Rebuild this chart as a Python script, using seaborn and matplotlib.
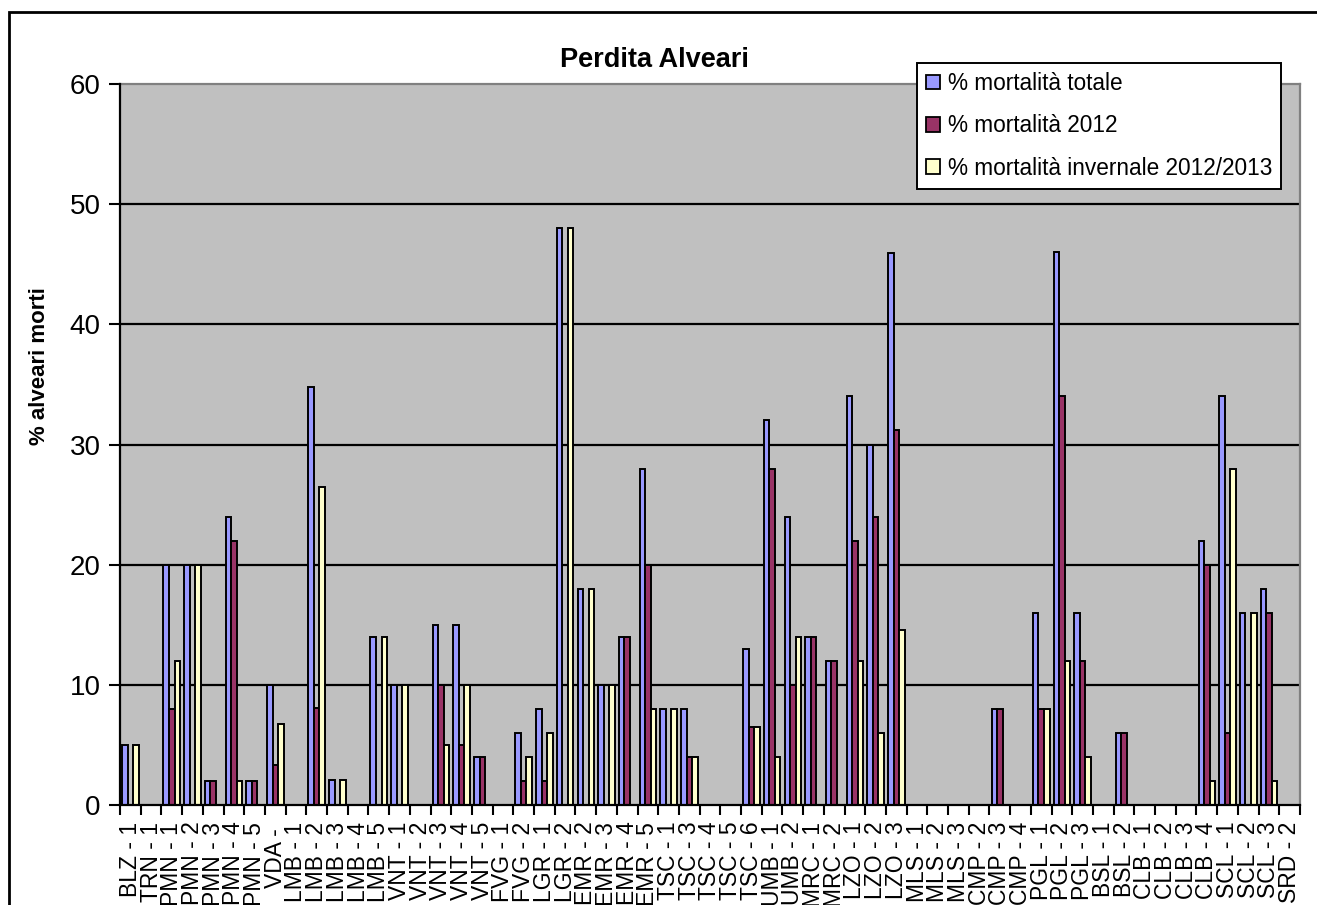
import matplotlib
matplotlib.use("Agg")
import matplotlib.pyplot as plt
from matplotlib.patches import Rectangle, Patch
import numpy as np
import pandas as pd
import seaborn as sns

# Beehive losses per region / survey group
categories = [
    "BLZ - 1", "TRN - 1", "PMN - 1", "PMN - 2", "PMN - 3", "PMN - 4", "PMN - 5",
    "VDA - ", "LMB - 1", "LMB - 2", "LMB - 3", "LMB - 4", "LMB - 5", "VNT - 1",
    "VNT - 2", "VNT - 3", "VNT - 4", "VNT - 5", "FVG - 1", "FVG - 2", "LGR - 1",
    "LGR - 2", "EMR - 2", "EMR - 3", "EMR - 4", "EMR - 5", "TSC - 1", "TSC - 3",
    "TSC - 4", "TSC - 5", "TSC - 6", "UMB - 1", "UMB - 2", "MRC - 1", "MRC - 2",
    "LZO - 1", "LZO - 2", "LZO - 3", "MLS - 1", "MLS - 2", "MLS - 3", "CMP - 2",
    "CMP - 3", "CMP - 4", "PGL - 1", "PGL - 2", "PGL - 3", "BSL - 1", "BSL - 2",
    "CLB - 1", "CLB - 2", "CLB - 3", "CLB - 4", "SCL - 1", "SCL - 2", "SCL - 3",
    "SRD - 2",
]

mortalita_totale = [
    5, 0, 20, 20, 2, 24, 2,
    10, 0, 34.8, 2.1, 0, 14, 10,
    0, 15, 15, 4, 0, 6, 8,
    48, 18, 10, 14, 28, 8, 8,
    0, 0, 13, 32, 24, 14, 12,
    34, 30, 45.9, 0, 0, 0, 0,
    8, 0, 16, 46, 16, 0, 6,
    0, 0, 0, 22, 34, 16, 18,
    0,
]

mortalita_2012 = [
    0, 0, 8, 0, 2, 22, 2,
    3.3, 0, 8.1, 0, 0, 0, 0,
    0, 10, 5, 4, 0, 2, 2,
    0, 0, 0, 14, 20, 0, 4,
    0, 0, 6.5, 28, 10, 14, 12,
    22, 24, 31.2, 0, 0, 0, 0,
    8, 0, 8, 34, 12, 0, 6,
    0, 0, 0, 20, 6, 0, 16,
    0,
]

mortalita_invernale = [
    5, 0, 12, 20, 0, 2, 0,
    6.7, 0, 26.5, 2.1, 0, 14, 10,
    0, 5, 10, 0, 0, 4, 6,
    48, 18, 10, 0, 8, 8, 4,
    0, 0, 6.5, 4, 14, 0, 0,
    12, 6, 14.6, 0, 0, 0, 0,
    0, 0, 8, 12, 4, 0, 0,
    0, 0, 0, 2, 28, 16, 2,
    0,
]

series_names = ["% mortalità totale", "% mortalità 2012", "% mortalità invernale 2012/2013"]
series_colors = ["#9999FF", "#993366", "#FFFFCC"]
y_ticks = [0, 10, 20, 30, 40, 50, 60]

sns.set_style("white")
plt.rcParams["font.family"] = ["Liberation Sans", "DejaVu Sans"]
plt.rcParams["text.color"] = "black"
plt.rcParams["xtick.color"] = "black"
plt.rcParams["ytick.color"] = "black"
plt.rcParams["xtick.labelcolor"] = "black"
plt.rcParams["ytick.labelcolor"] = "black"

df = pd.DataFrame({
    "regione": categories * 3,
    "serie": np.repeat(series_names, len(categories)),
    "valore": mortalita_totale + mortalita_2012 + mortalita_invernale,
})

W, H = 1317, 905
fig = plt.figure(figsize=(W / 100, H / 100), dpi=100)
fig.patch.set_facecolor("white")
ax = fig.add_axes([120 / W, 1 - 805 / H, 1180 / W, 721 / H])
ax.set_facecolor("#C0C0C0")

# horizontal grid lines behind the bars
for yv in y_ticks[1:-1]:
    ax.axhline(yv, color="black", lw=1.6, zorder=0.5)

sns.barplot(
    data=df, x="regione", y="valore", hue="serie",
    order=categories, hue_order=series_names, palette=series_colors,
    saturation=1, width=0.8, edgecolor="black", linewidth=1.4,
    errorbar=None, legend=False, ax=ax, zorder=2,
)

ax.set_xlim(-0.5, len(categories) - 0.5)
ax.set_ylim(y_ticks[0], y_ticks[-1])
ax.set_xlabel("")
ax.set_ylabel("")

# tick marks between categories, labels centred on categories
ax.set_xticks(np.arange(-0.5, len(categories), 1.0))
ax.set_xticklabels([])
ax.set_xticks(np.arange(len(categories)), minor=True)
ax.set_xticklabels(categories, minor=True, rotation=90, fontsize=16.5,
                   ha="center", va="top", color="black")
ax.tick_params(axis="x", which="major", direction="out", length=7, width=1.5,
               color="black", bottom=True)
ax.tick_params(axis="x", which="minor", length=0, pad=12)

ax.set_yticks(y_ticks)
ax.set_yticklabels([str(v) for v in y_ticks], fontsize=20, color="black")
ax.tick_params(axis="y", direction="out", length=8, width=1.5, color="black",
               left=True, pad=6)

for side in ("left", "bottom"):
    ax.spines[side].set_color("black")
    ax.spines[side].set_linewidth(1.6)
    ax.spines[side].set_zorder(3)
for side in ("top", "right"):
    ax.spines[side].set_color("#808080")
    ax.spines[side].set_linewidth(1.6)

fig.text(654 / W, 1 - 60 / H, "Perdita Alveari", ha="center", va="center",
         fontsize=19.5, fontweight="bold", color="black")
fig.text(40 / W, 1 - 366 / H, "% alveari morti", ha="center", va="center",
         rotation=90, fontsize=16, fontweight="bold", color="black")

handles = [Patch(facecolor=c, edgecolor="black", linewidth=1.3) for c in series_colors]
leg = fig.legend(
    handles, series_names, loc="upper left",
    bbox_to_anchor=(917 / W, 1 - 63 / H), bbox_transform=fig.transFigure,
    fontsize=16.3, frameon=True, fancybox=False, framealpha=1,
    edgecolor="black", facecolor="white", borderpad=0.4, labelspacing=0.85,
    handlelength=0.6, handleheight=0.6, handletextpad=0.35, borderaxespad=0,
)
leg.get_frame().set_linewidth(1.4)
for t in leg.get_texts():
    t.set_color("black")

# chart-area border
fig.add_artist(Rectangle((9 / W, -0.05), 1.2, 1 - 12 / H + 0.05,
                         transform=fig.transFigure, fill=False,
                         edgecolor="black", linewidth=2))

fig.savefig("out.png", dpi=100)
